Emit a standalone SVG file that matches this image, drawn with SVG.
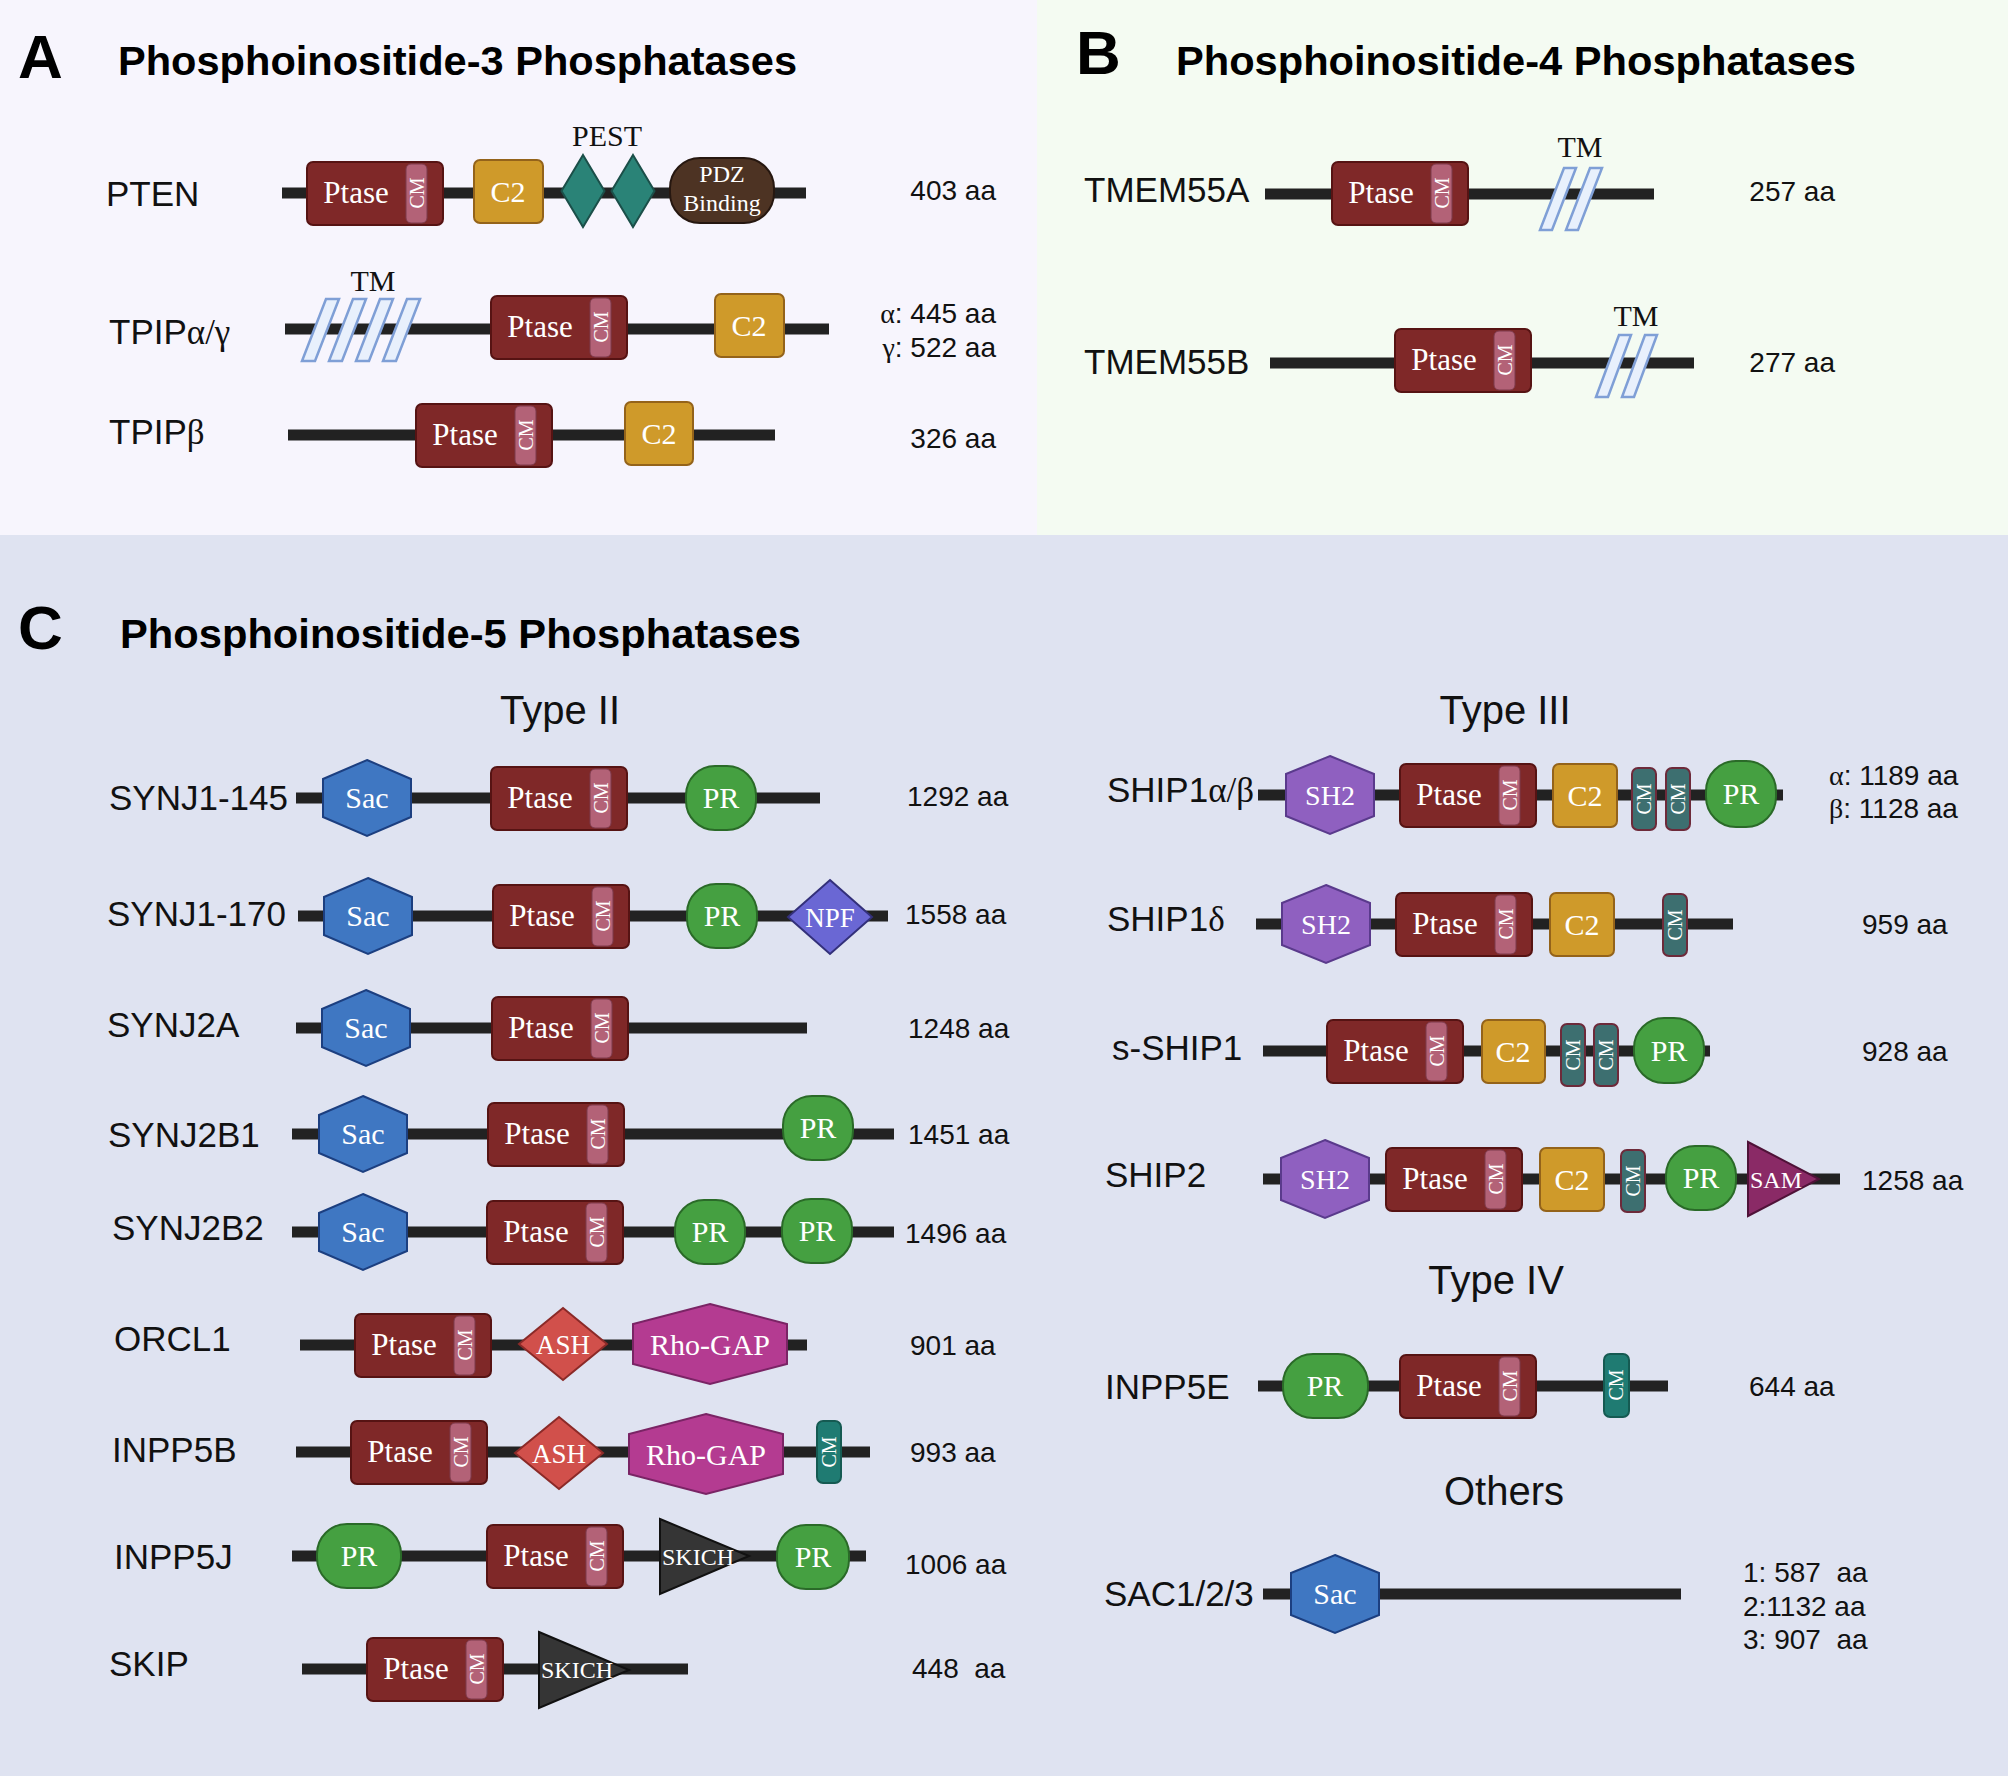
<svg xmlns="http://www.w3.org/2000/svg" width="2008" height="1776" viewBox="0 0 2008 1776">
<style>
text{font-family:"Liberation Sans",Arial,sans-serif;fill:#111}
.big{font-size:62px;font-weight:bold;fill:#000}
.ttl{font-size:40px;font-weight:bold;fill:#000}
.hdr{font-size:40px;text-anchor:middle}
.lbl{font-size:35px}
.aa{font-size:28px}
.aae{font-size:28px;text-anchor:end}
.gk{font-family:"Liberation Serif","Times New Roman",serif}
.ser{font-family:"Liberation Serif","Times New Roman",serif;font-size:30px;text-anchor:middle;fill:#111}
.dt{font-family:"Liberation Serif","Times New Roman",serif;font-size:30px;text-anchor:middle;fill:#fff}
.pt{font-family:"Liberation Serif","Times New Roman",serif;font-size:31px;text-anchor:middle;fill:#fff}
.cm{font-family:"Liberation Serif","Times New Roman",serif;font-size:20px;text-anchor:middle;fill:#fff}
.sm{font-family:"Liberation Serif","Times New Roman",serif;font-size:24px;fill:#fff}
.smc{font-family:"Liberation Serif","Times New Roman",serif;font-size:24px;fill:#fff;text-anchor:middle}
.pre{white-space:pre}
.bb{stroke:#222;stroke-width:11;fill:none}
.ptase{fill:#7f2828;stroke:#561313;stroke-width:2}
.cmin{fill:#b36277;stroke:#7d3a4c;stroke-width:1}
.c2{fill:#cf9a2a;stroke:#94631a;stroke-width:2}
.pest{fill:#2a8377;stroke:#1b4f49;stroke-width:2}
.pdz{fill:#4d3323;stroke:#261710;stroke-width:2}
.tm{fill:#e8f0fc;stroke:#7f9fd6;stroke-width:2.5}
.sac{fill:#3f77c2;stroke:#1c3f80;stroke-width:2}
.pr{fill:#45a041;stroke:#2a6a28;stroke-width:2}
.npf{fill:#6a67d4;stroke:#33307a;stroke-width:2}
.ash{fill:#d1504b;stroke:#8b2a28;stroke-width:2}
.rho{fill:#b43b91;stroke:#7a2465;stroke-width:2}
.cmt1{fill:#1f7b72;stroke:#155a52;stroke-width:2}
.cmt2{fill:#3d6f70;stroke:#6d2a3a;stroke-width:2}
.sh2{fill:#8f60c0;stroke:#5a3a8c;stroke-width:2}
.skich{fill:#353535;stroke:#111;stroke-width:2}
.sam{fill:#8a2a66;stroke:#4f1238;stroke-width:2}
</style>

<g id="panels">
<rect x="0" y="0" width="1037" height="535" fill="#f7f5fd"/>
<rect x="1037" y="0" width="971" height="535" fill="#f4fbf2"/>
<rect x="0" y="535" width="2008" height="1241" fill="#dfe3f1"/>
</g>

<g id="headings">
<text class="big" x="18" y="78">A</text>
<text class="ttl" x="118" y="75" textLength="679" lengthAdjust="spacingAndGlyphs">Phosphoinositide-3 Phosphatases</text>
<text class="big" x="1076" y="74">B</text>
<text class="ttl" x="1176" y="75" textLength="680" lengthAdjust="spacingAndGlyphs">Phosphoinositide-4 Phosphatases</text>
<text class="big" x="18" y="649">C</text>
<text class="ttl" x="120" y="648" textLength="681" lengthAdjust="spacingAndGlyphs">Phosphoinositide-5 Phosphatases</text>
<text class="hdr" x="560" y="724">Type II</text>
<text class="hdr" x="1505" y="724">Type III</text>
<text class="hdr" x="1496" y="1294">Type IV</text>
<text class="hdr" x="1504" y="1505">Others</text>
</g>

<g id="backbones">
<line class="bb" x1="282" y1="193" x2="806" y2="193"/>
<line class="bb" x1="285" y1="329" x2="829" y2="329"/>
<line class="bb" x1="288" y1="435" x2="775" y2="435"/>
<line class="bb" x1="1265" y1="194" x2="1654" y2="194"/>
<line class="bb" x1="1270" y1="363" x2="1694" y2="363"/>
<line class="bb" x1="296" y1="798" x2="820" y2="798"/>
<line class="bb" x1="298" y1="916" x2="888" y2="916"/>
<line class="bb" x1="296" y1="1028" x2="807" y2="1028"/>
<line class="bb" x1="292" y1="1134" x2="894" y2="1134"/>
<line class="bb" x1="292" y1="1232" x2="894" y2="1232"/>
<line class="bb" x1="300" y1="1345" x2="807" y2="1345"/>
<line class="bb" x1="296" y1="1452" x2="870" y2="1452"/>
<line class="bb" x1="292" y1="1556" x2="866" y2="1556"/>
<line class="bb" x1="302" y1="1669" x2="688" y2="1669"/>
<line class="bb" x1="1258" y1="795" x2="1783" y2="795"/>
<line class="bb" x1="1256" y1="924" x2="1733" y2="924"/>
<line class="bb" x1="1263" y1="1051" x2="1710" y2="1051"/>
<line class="bb" x1="1263" y1="1179" x2="1840" y2="1179"/>
<line class="bb" x1="1258" y1="1386" x2="1668" y2="1386"/>
<line class="bb" x1="1263" y1="1594" x2="1681" y2="1594"/>
</g>

<!-- Panel A -->
<g id="PTEN">
<text class="lbl" x="106" y="206">PTEN</text>
<g transform="translate(307,193)"><rect class="ptase" x="0" y="-31" width="136" height="63" rx="6"/><rect class="cmin" x="99" y="-29" width="21" height="59" rx="5"/><text class="pt" x="49" y="10">Ptase</text><text class="cm" transform="translate(110,0) rotate(-90)" y="7">CM</text></g>
<rect class="c2" x="474" y="160" width="69" height="63" rx="6"/><text class="dt" x="508" y="202">C2</text>
<polygon class="pest" points="583,155 604.5,191 583,227 561.5,191"/>
<polygon class="pest" points="633,155 654.5,191 633,227 611.5,191"/>
<text class="ser" x="607" y="146">PEST</text>
<rect class="pdz" x="670" y="158" width="104" height="65" rx="30"/>
<text class="smc" x="722" y="182">PDZ</text>
<text class="smc" x="722" y="211">Binding</text>
<text class="aae" x="996" y="200">403 aa</text>
</g>

<g id="TPIPag">
<text class="lbl" x="109" y="344">TPIP<tspan class="gk">α/γ</tspan></text>
<polygon class="tm" points="302,361 315,361 339,299 326,299"/>
<polygon class="tm" points="329,361 342,361 366,299 353,299"/>
<polygon class="tm" points="356,361 369,361 393,299 380,299"/>
<polygon class="tm" points="383,361 396,361 420,299 407,299"/>
<text class="ser" x="373" y="291">TM</text>
<g transform="translate(491,327)"><rect class="ptase" x="0" y="-31" width="136" height="63" rx="6"/><rect class="cmin" x="99" y="-29" width="21" height="59" rx="5"/><text class="pt" x="49" y="10">Ptase</text><text class="cm" transform="translate(110,0) rotate(-90)" y="7">CM</text></g>
<rect class="c2" x="715" y="294" width="69" height="63" rx="6"/><text class="dt" x="749" y="336">C2</text>
<text class="aae" x="996" y="323"><tspan class="gk">α</tspan>: 445 aa</text>
<text class="aae" x="996" y="357"><tspan class="gk">γ</tspan>: 522 aa</text>
</g>

<g id="TPIPb">
<text class="lbl" x="109" y="444">TPIP<tspan class="gk">β</tspan></text>
<g transform="translate(416,435)"><rect class="ptase" x="0" y="-31" width="136" height="63" rx="6"/><rect class="cmin" x="99" y="-29" width="21" height="59" rx="5"/><text class="pt" x="49" y="10">Ptase</text><text class="cm" transform="translate(110,0) rotate(-90)" y="7">CM</text></g>
<rect class="c2" x="625" y="402" width="68" height="63" rx="6"/><text class="dt" x="659" y="444">C2</text>
<text class="aae" x="996" y="448">326 aa</text>
</g>

<!-- Panel B -->
<g id="TMEM55A">
<text class="lbl" x="1084" y="202">TMEM55A</text>
<g transform="translate(1332,193)"><rect class="ptase" x="0" y="-31" width="136" height="63" rx="6"/><rect class="cmin" x="99" y="-29" width="21" height="59" rx="5"/><text class="pt" x="49" y="10">Ptase</text><text class="cm" transform="translate(110,0) rotate(-90)" y="7">CM</text></g>
<polygon class="tm" points="1540,230 1552,230 1576,168 1564,168"/>
<polygon class="tm" points="1566,230 1578,230 1602,168 1590,168"/>
<text class="ser" x="1580" y="157">TM</text>
<text class="aae" x="1835" y="201">257 aa</text>
</g>

<g id="TMEM55B">
<text class="lbl" x="1084" y="374">TMEM55B</text>
<g transform="translate(1395,360)"><rect class="ptase" x="0" y="-31" width="136" height="63" rx="6"/><rect class="cmin" x="99" y="-29" width="21" height="59" rx="5"/><text class="pt" x="49" y="10">Ptase</text><text class="cm" transform="translate(110,0) rotate(-90)" y="7">CM</text></g>
<polygon class="tm" points="1596,397 1608,397 1631,335 1619,335"/>
<polygon class="tm" points="1622,397 1634,397 1657,335 1645,335"/>
<text class="ser" x="1636" y="326">TM</text>
<text class="aae" x="1835" y="372">277 aa</text>
</g>

<!-- Panel C left -->
<g id="SYNJ1-145">
<text class="lbl" x="109" y="810">SYNJ1-145</text>
<g transform="translate(367,798)"><polygon class="sac" points="0,-38 44,-19 44,19 0,38 -44,19 -44,-19"/><text class="dt" y="10">Sac</text></g>
<g transform="translate(491,798)"><rect class="ptase" x="0" y="-31" width="136" height="63" rx="6"/><rect class="cmin" x="99" y="-29" width="21" height="59" rx="5"/><text class="pt" x="49" y="10">Ptase</text><text class="cm" transform="translate(110,0) rotate(-90)" y="7">CM</text></g>
<rect class="pr" x="686" y="766" width="70" height="64" rx="29"/><text class="dt" x="721" y="808">PR</text>
<text class="aa" x="907" y="806">1292 aa</text>
</g>

<g id="SYNJ1-170">
<text class="lbl" x="107" y="926">SYNJ1-170</text>
<g transform="translate(368,916)"><polygon class="sac" points="0,-38 44,-19 44,19 0,38 -44,19 -44,-19"/><text class="dt" y="10">Sac</text></g>
<g transform="translate(493,916)"><rect class="ptase" x="0" y="-31" width="136" height="63" rx="6"/><rect class="cmin" x="99" y="-29" width="21" height="59" rx="5"/><text class="pt" x="49" y="10">Ptase</text><text class="cm" transform="translate(110,0) rotate(-90)" y="7">CM</text></g>
<rect class="pr" x="687" y="884" width="70" height="64" rx="29"/><text class="dt" x="722" y="926">PR</text>
<polygon class="npf" points="830,880 872,917 830,954 788,917"/><text class="dt" x="830" y="927" style="font-size:27px">NPF</text>
<text class="aa" x="905" y="924">1558 aa</text>
</g>

<g id="SYNJ2A">
<text class="lbl" x="107" y="1037">SYNJ2A</text>
<g transform="translate(366,1028)"><polygon class="sac" points="0,-38 44,-19 44,19 0,38 -44,19 -44,-19"/><text class="dt" y="10">Sac</text></g>
<g transform="translate(492,1028)"><rect class="ptase" x="0" y="-31" width="136" height="63" rx="6"/><rect class="cmin" x="99" y="-29" width="21" height="59" rx="5"/><text class="pt" x="49" y="10">Ptase</text><text class="cm" transform="translate(110,0) rotate(-90)" y="7">CM</text></g>
<text class="aa" x="908" y="1038">1248 aa</text>
</g>

<g id="SYNJ2B1">
<text class="lbl" x="108" y="1147">SYNJ2B1</text>
<g transform="translate(363,1134)"><polygon class="sac" points="0,-38 44,-19 44,19 0,38 -44,19 -44,-19"/><text class="dt" y="10">Sac</text></g>
<g transform="translate(488,1134)"><rect class="ptase" x="0" y="-31" width="136" height="63" rx="6"/><rect class="cmin" x="99" y="-29" width="21" height="59" rx="5"/><text class="pt" x="49" y="10">Ptase</text><text class="cm" transform="translate(110,0) rotate(-90)" y="7">CM</text></g>
<rect class="pr" x="783" y="1096" width="70" height="64" rx="29"/><text class="dt" x="818" y="1138">PR</text>
<text class="aa" x="908" y="1144">1451 aa</text>
</g>

<g id="SYNJ2B2">
<text class="lbl" x="112" y="1240">SYNJ2B2</text>
<g transform="translate(363,1232)"><polygon class="sac" points="0,-38 44,-19 44,19 0,38 -44,19 -44,-19"/><text class="dt" y="10">Sac</text></g>
<g transform="translate(487,1232)"><rect class="ptase" x="0" y="-31" width="136" height="63" rx="6"/><rect class="cmin" x="99" y="-29" width="21" height="59" rx="5"/><text class="pt" x="49" y="10">Ptase</text><text class="cm" transform="translate(110,0) rotate(-90)" y="7">CM</text></g>
<rect class="pr" x="675" y="1200" width="70" height="64" rx="29"/><text class="dt" x="710" y="1242">PR</text>
<rect class="pr" x="782" y="1199" width="70" height="64" rx="29"/><text class="dt" x="817" y="1241">PR</text>
<text class="aa" x="905" y="1243">1496 aa</text>
</g>

<g id="ORCL1">
<text class="lbl" x="114" y="1351">ORCL1</text>
<g transform="translate(355,1345)"><rect class="ptase" x="0" y="-31" width="136" height="63" rx="6"/><rect class="cmin" x="99" y="-29" width="21" height="59" rx="5"/><text class="pt" x="49" y="10">Ptase</text><text class="cm" transform="translate(110,0) rotate(-90)" y="7">CM</text></g>
<polygon class="ash" points="563,1308 607,1344 563,1380 519,1344"/><text class="dt" x="563" y="1354" style="font-size:27px">ASH</text>
<polygon class="rho" points="710,1304 787,1324 787,1364 710,1384 633,1364 633,1324"/><text class="dt" x="710" y="1355">Rho-GAP</text>
<text class="aa" x="910" y="1355">901 aa</text>
</g>

<g id="INPP5B">
<text class="lbl" x="112" y="1462">INPP5B</text>
<g transform="translate(351,1452)"><rect class="ptase" x="0" y="-31" width="136" height="63" rx="6"/><rect class="cmin" x="99" y="-29" width="21" height="59" rx="5"/><text class="pt" x="49" y="10">Ptase</text><text class="cm" transform="translate(110,0) rotate(-90)" y="7">CM</text></g>
<polygon class="ash" points="559,1417 603,1453 559,1489 515,1453"/><text class="dt" x="559" y="1463" style="font-size:27px">ASH</text>
<polygon class="rho" points="706,1414 783,1434 783,1474 706,1494 629,1474 629,1434"/><text class="dt" x="706" y="1465">Rho-GAP</text>
<g transform="translate(829,1452)"><rect class="cmt1" x="-12" y="-31" width="24" height="62" rx="6"/><text class="cm" transform="rotate(-90)" y="7">CM</text></g>
<text class="aa" x="910" y="1462">993 aa</text>
</g>

<g id="INPP5J">
<text class="lbl" x="114" y="1569">INPP5J</text>
<rect class="pr" x="317" y="1524" width="84" height="64" rx="30"/><text class="dt" x="359" y="1566">PR</text>
<g transform="translate(487,1556)"><rect class="ptase" x="0" y="-31" width="136" height="63" rx="6"/><rect class="cmin" x="99" y="-29" width="21" height="59" rx="5"/><text class="pt" x="49" y="10">Ptase</text><text class="cm" transform="translate(110,0) rotate(-90)" y="7">CM</text></g>
<polygon class="skich" points="660,1519 749,1556 660,1594"/><text class="sm" x="662" y="1565">SKICH</text>
<rect class="pr" x="777" y="1525" width="72" height="64" rx="29"/><text class="dt" x="813" y="1567">PR</text>
<text class="aa" x="905" y="1574">1006 aa</text>
</g>

<g id="SKIP">
<text class="lbl" x="109" y="1676">SKIP</text>
<g transform="translate(367,1669)"><rect class="ptase" x="0" y="-31" width="136" height="63" rx="6"/><rect class="cmin" x="99" y="-29" width="21" height="59" rx="5"/><text class="pt" x="49" y="10">Ptase</text><text class="cm" transform="translate(110,0) rotate(-90)" y="7">CM</text></g>
<polygon class="skich" points="539,1632 629,1670 539,1708"/><text class="sm" x="541" y="1678">SKICH</text>
<text class="aa pre" x="912" y="1678">448  aa</text>
</g>

<!-- Panel C right -->
<g id="SHIP1ab">
<text class="lbl" x="1107" y="802">SHIP1<tspan class="gk">α/β</tspan></text>
<g transform="translate(1330,795)"><polygon class="sh2" points="0,-39 44,-21 44,21 0,39 -44,21 -44,-21"/><text class="dt" y="10" style="font-size:28px">SH2</text></g>
<g transform="translate(1400,795)"><rect class="ptase" x="0" y="-31" width="136" height="63" rx="6"/><rect class="cmin" x="99" y="-29" width="21" height="59" rx="5"/><text class="pt" x="49" y="10">Ptase</text><text class="cm" transform="translate(110,0) rotate(-90)" y="7">CM</text></g>
<rect class="c2" x="1553" y="764" width="64" height="63" rx="6"/><text class="dt" x="1585" y="806">C2</text>
<g transform="translate(1644,799)"><rect class="cmt2" x="-12" y="-31" width="24" height="62" rx="6"/><text class="cm" transform="rotate(-90)" y="7">CM</text></g>
<g transform="translate(1678,799)"><rect class="cmt2" x="-12" y="-31" width="24" height="62" rx="6"/><text class="cm" transform="rotate(-90)" y="7">CM</text></g>
<rect class="pr" x="1706" y="761" width="70" height="66" rx="30"/><text class="dt" x="1741" y="804">PR</text>
<text class="aa" x="1829" y="785"><tspan class="gk">α</tspan>: 1189 aa</text>
<text class="aa" x="1829" y="818"><tspan class="gk">β</tspan>: 1128 aa</text>
</g>

<g id="SHIP1d">
<text class="lbl" x="1107" y="931">SHIP1<tspan class="gk">δ</tspan></text>
<g transform="translate(1326,924)"><polygon class="sh2" points="0,-39 44,-21 44,21 0,39 -44,21 -44,-21"/><text class="dt" y="10" style="font-size:28px">SH2</text></g>
<g transform="translate(1396,924)"><rect class="ptase" x="0" y="-31" width="136" height="63" rx="6"/><rect class="cmin" x="99" y="-29" width="21" height="59" rx="5"/><text class="pt" x="49" y="10">Ptase</text><text class="cm" transform="translate(110,0) rotate(-90)" y="7">CM</text></g>
<rect class="c2" x="1550" y="893" width="64" height="63" rx="6"/><text class="dt" x="1582" y="935">C2</text>
<g transform="translate(1675,925)"><rect class="cmt2" x="-12" y="-31" width="24" height="62" rx="6"/><text class="cm" transform="rotate(-90)" y="7">CM</text></g>
<text class="aa" x="1862" y="934">959 aa</text>
</g>

<g id="s-SHIP1">
<text class="lbl" x="1112" y="1060">s-SHIP1</text>
<g transform="translate(1327,1051)"><rect class="ptase" x="0" y="-31" width="136" height="63" rx="6"/><rect class="cmin" x="99" y="-29" width="21" height="59" rx="5"/><text class="pt" x="49" y="10">Ptase</text><text class="cm" transform="translate(110,0) rotate(-90)" y="7">CM</text></g>
<rect class="c2" x="1482" y="1020" width="63" height="63" rx="6"/><text class="dt" x="1513" y="1062">C2</text>
<g transform="translate(1573,1055)"><rect class="cmt2" x="-12" y="-31" width="24" height="62" rx="6"/><text class="cm" transform="rotate(-90)" y="7">CM</text></g>
<g transform="translate(1606,1055)"><rect class="cmt2" x="-12" y="-31" width="24" height="62" rx="6"/><text class="cm" transform="rotate(-90)" y="7">CM</text></g>
<rect class="pr" x="1634" y="1018" width="70" height="65" rx="30"/><text class="dt" x="1669" y="1061">PR</text>
<text class="aa" x="1862" y="1061">928 aa</text>
</g>

<g id="SHIP2">
<text class="lbl" x="1105" y="1187">SHIP2</text>
<g transform="translate(1325,1179)"><polygon class="sh2" points="0,-39 44,-21 44,21 0,39 -44,21 -44,-21"/><text class="dt" y="10" style="font-size:28px">SH2</text></g>
<g transform="translate(1386,1179)"><rect class="ptase" x="0" y="-31" width="136" height="63" rx="6"/><rect class="cmin" x="99" y="-29" width="21" height="59" rx="5"/><text class="pt" x="49" y="10">Ptase</text><text class="cm" transform="translate(110,0) rotate(-90)" y="7">CM</text></g>
<rect class="c2" x="1540" y="1148" width="64" height="63" rx="6"/><text class="dt" x="1572" y="1190">C2</text>
<g transform="translate(1633,1181)"><rect class="cmt2" x="-12" y="-31" width="24" height="62" rx="6"/><text class="cm" transform="rotate(-90)" y="7">CM</text></g>
<rect class="pr" x="1666" y="1146" width="70" height="64" rx="29"/><text class="dt" x="1701" y="1188">PR</text>
<polygon class="sam" points="1748,1142 1819,1179 1748,1216"/><text class="sm" x="1750" y="1188">SAM</text>
<text class="aa" x="1862" y="1190">1258 aa</text>
</g>

<g id="INPP5E">
<text class="lbl" x="1105" y="1399">INPP5E</text>
<rect class="pr" x="1283" y="1354" width="85" height="64" rx="30"/><text class="dt" x="1325" y="1396">PR</text>
<g transform="translate(1400,1386)"><rect class="ptase" x="0" y="-31" width="136" height="63" rx="6"/><rect class="cmin" x="99" y="-29" width="21" height="59" rx="5"/><text class="pt" x="49" y="10">Ptase</text><text class="cm" transform="translate(110,0) rotate(-90)" y="7">CM</text></g>
<g transform="translate(1616,1385)"><rect class="cmt1" x="-12" y="-31" width="25" height="63" rx="6"/><text class="cm" transform="rotate(-90)" y="7">CM</text></g>
<text class="aa" x="1749" y="1396">644 aa</text>
</g>

<g id="SAC123">
<text class="lbl" x="1104" y="1606">SAC1/2/3</text>
<g transform="translate(1335,1594)"><polygon class="sac" points="0,-39 44,-21 44,21 0,39 -44,21 -44,-21"/><text class="dt" y="10">Sac</text></g>
<text class="aa pre" x="1743" y="1582">1: 587  aa</text>
<text class="aa" x="1743" y="1616">2:1132 aa</text>
<text class="aa pre" x="1743" y="1649">3: 907  aa</text>
</g>
</svg>
